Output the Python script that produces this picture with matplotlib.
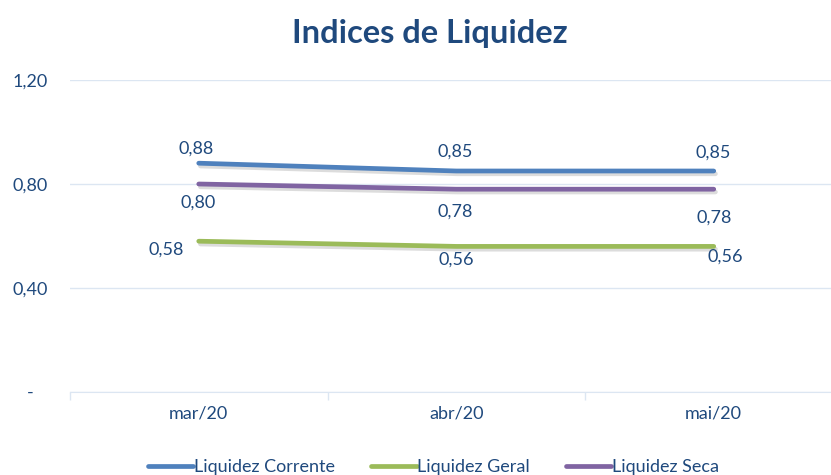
import matplotlib
matplotlib.use("Agg")
import matplotlib.pyplot as plt
import matplotlib.patheffects as pe

months = ["mar/20", "abr/20", "mai/20"]
corrente = [0.88, 0.85, 0.85]
geral = [0.58, 0.56, 0.56]
seca = [0.80, 0.78, 0.78]
series_names = ["Liquidez Corrente", "Liquidez Geral", "Liquidez Seca"]
y_ticks = [0, 0.4, 0.8, 1.2]
y_tick_labels = ["-   ", "0,40", "0,80", "1,20"]

colors = ["#4F81BD", "#9BBB59", "#8064A2"]
text_color = "#1F497D"
grid_color = "#DCE6F2"

# label offsets in pixels (dx, dy) per series / point
offsets = [
    [(-3, 15), (-1, 19), (-1, 18)],
    [(-33, -8), (0, -13), (12, -10)],
    [(-1, -19), (-1, -22), (0, -28)],
]

plt.rcParams["font.family"] = ["Lato", "DejaVu Sans"]

fig = plt.figure(figsize=(8.31, 4.75), dpi=100)
ax = fig.add_axes([70 / 831, 83 / 475, 772.5 / 831, 312 / 475])

x = range(len(months))
shadow = [pe.SimpleLineShadow(offset=(1.2, -2.0), shadow_color="#8c8c8c", alpha=0.3),
          pe.Normal()]
for vals, name, col, offs in zip([corrente, geral, seca], series_names, colors, offsets):
    ax.plot(x, vals, color=col, lw=3.4, solid_capstyle="round", label=name,
            path_effects=shadow)
    for xi, v, (dx, dy) in zip(x, vals, offs):
        ax.annotate(f"{v:.2f}".replace(".", ","), (xi, v), xytext=(dx, dy),
                    textcoords="offset pixels", ha="center", va="center",
                    fontsize=13, color=text_color)

ax.set_xlim(-0.5, 2.5)
ax.set_ylim(0, 1.2)
ax.set_yticks(y_ticks)
ax.set_yticklabels(y_tick_labels)
ax.set_xticks(list(x))
ax.set_xticklabels(months)
ax.set_xticks([-0.5, 0.5, 1.5, 2.5], minor=True)
ax.tick_params(axis="x", which="major", length=0, pad=10, labelsize=13, labelcolor=text_color)
ax.tick_params(axis="x", which="minor", length=6, color=grid_color, width=1)
ax.tick_params(axis="y", length=0, pad=16, labelsize=13, labelcolor=text_color)

ax.grid(axis="y", color=grid_color, lw=1)
ax.set_axisbelow(True)
for s in ["top", "right", "left"]:
    ax.spines[s].set_visible(False)
ax.spines["bottom"].set_color(grid_color)

fig.text(0.517, 0.93, "Indices de Liquidez", ha="center", va="center",
         fontsize=23.5, fontweight="bold", color=text_color)

leg = fig.legend(loc="center", bbox_to_anchor=(0.522, 0.017), ncol=3, frameon=False,
                 fontsize=13, handlelength=2.5, handletextpad=0.05, columnspacing=2.0)
for t in leg.get_texts():
    t.set_color(text_color)
for h in leg.get_lines():
    h.set_linewidth(3.4)
    h.set_path_effects([])
    h.set_solid_capstyle("round")

fig.savefig("out.png", dpi=100)
